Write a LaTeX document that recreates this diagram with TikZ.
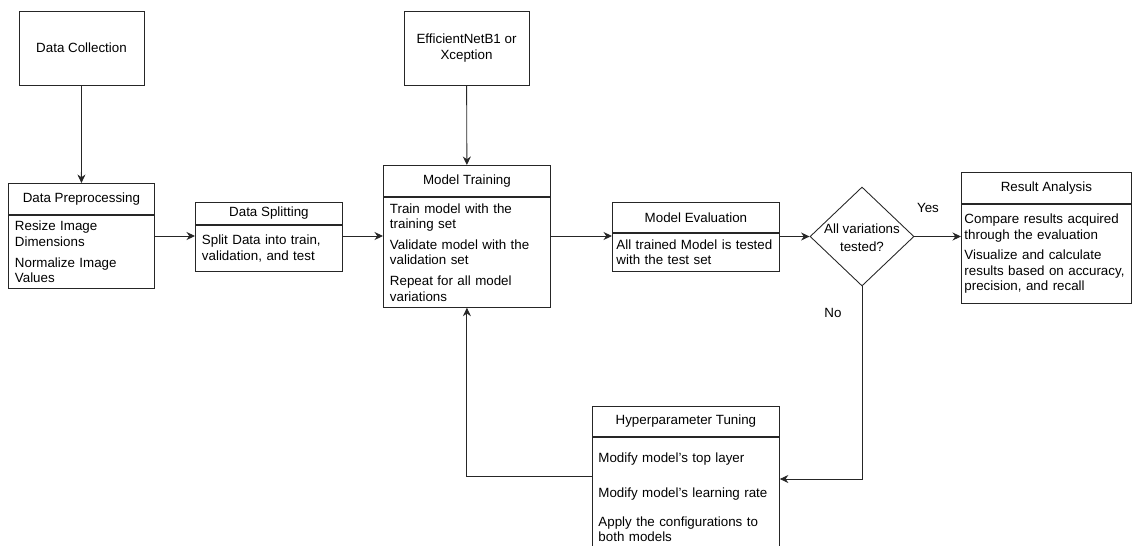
\documentclass[tikz,border=0pt]{standalone}
\usepackage{fontspec}
\setmainfont{Liberation Sans}
\usetikzlibrary{positioning,shapes.geometric,arrows.meta}

\begin{document}
\begin{tikzpicture}[
    x=0.02cm, y=-0.02cm,
    line width=0.5pt,
    draw=black!85,
    font=\fontsize{7.6}{8.8}\selectfont,
    plain/.style={
        rectangle,draw,
        minimum width=2.5cm,
        minimum height=1.48cm,
        align=center
    },
    head/.style={
        rectangle,draw,
        minimum width=#1,
        minimum height=0.62cm,
        inner sep=0pt,
        anchor=north west
    },
    body/.style={
        rectangle,draw,
        text width=#1,
        inner xsep=0.13cm,
        align=left
    },
    decision/.style={
        diamond,draw,
        minimum width=2.08cm,
        minimum height=1.98cm,
        inner sep=0pt
    },
    arrow/.style={-{Stealth[length=0.17cm,width=0.16cm]}}
]
\useasboundingbox (0,0) rectangle (1135,545);
\clip (0,0) rectangle (1135,545);

\node[plain] (coll) at (81.5,48) {Data Collection};
\node[plain] (eff) at (466.5,48) {EfficientNetB1 or\\Xception};

\node[head=2.92cm] (prephead) at (8,183) {Data Preprocessing};
\node[body=2.66cm, minimum height=1.46cm, below=0pt of prephead] (prepbody) {Resize Image\\Dimensions\\[3pt]Normalize Image\\Values};

\node[head=2.94cm, minimum height=0.44cm] (splithead) at (195,202) {Data Splitting};
\node[body=2.68cm, minimum height=0.92cm, below=0pt of splithead] (splitbody) {Split Data into train,\\validation, and test};

\node[head=3.34cm] (trainhead) at (383,165) {Model Training};
\node[body=3.08cm, minimum height=2.2cm, below=0pt of trainhead] (trainbody) {Train model with the\\training set\\[3pt]Validate model with the\\validation set\\[3pt]Repeat for all model\\variations};

\node[head=3.34cm, minimum height=0.60cm] (evalhead) at (612,202) {Model Evaluation};
\node[body=3.18cm, inner xsep=0.08cm, minimum height=0.76cm, below=0pt of evalhead] (evalbody) {All trained Model is tested\\with the test set};

\node[decision] (check) at (862,236.5) {};
\node[align=center, font=\fontsize{7.6}{10}\selectfont] (checktext) at (862,238) {All variations\\tested?};

\node[head=3.40cm] (reshead) at (961,172) {Result Analysis};
\node[body=3.28cm, inner xsep=0.06cm, minimum height=1.98cm, below=0pt of reshead] (resbody) {Compare results acquired\\through the evaluation\\[3pt]Visualize and calculate\\results based on accuracy,\\precision, and recall};

\node[head=3.74cm, minimum height=0.60cm] (hyphead) at (592,406) {Hyperparameter Tuning};
\node[body=3.50cm, inner xsep=0.12cm, minimum height=2.4cm, below=0pt of hyphead] (hypbody) {Modify model's top layer\\[11.5pt]Modify model's learning rate\\[7.5pt]Apply the configurations to\\both models};

\node (yes) at (928,208) {Yes};
\node (no) at (833,313) {No};

\coordinate (row) at (0,236);
\coordinate (noturn) at (862,479);
\coordinate (backturn) at (467,476);

\draw[arrow] (coll) -- (prephead);
\draw[arrow] (eff) -- (trainhead);
\draw[arrow] (prepbody.east |- row) -- (splitbody.west |- row);
\draw[arrow] (splitbody.east |- row) -- (trainbody.west |- row);
\draw[arrow] (trainbody.east |- row) -- (evalbody.west |- row);
\draw[arrow] (evalbody.east |- check.west) -- (check.west);
\draw[arrow] (check.east) -- (resbody.west |- check.east);
\draw[arrow] (check.south) |- (hypbody.east |- noturn);
\draw[arrow] (hypbody.west |- backturn) -| (trainbody.south);
\end{tikzpicture}
\end{document}
